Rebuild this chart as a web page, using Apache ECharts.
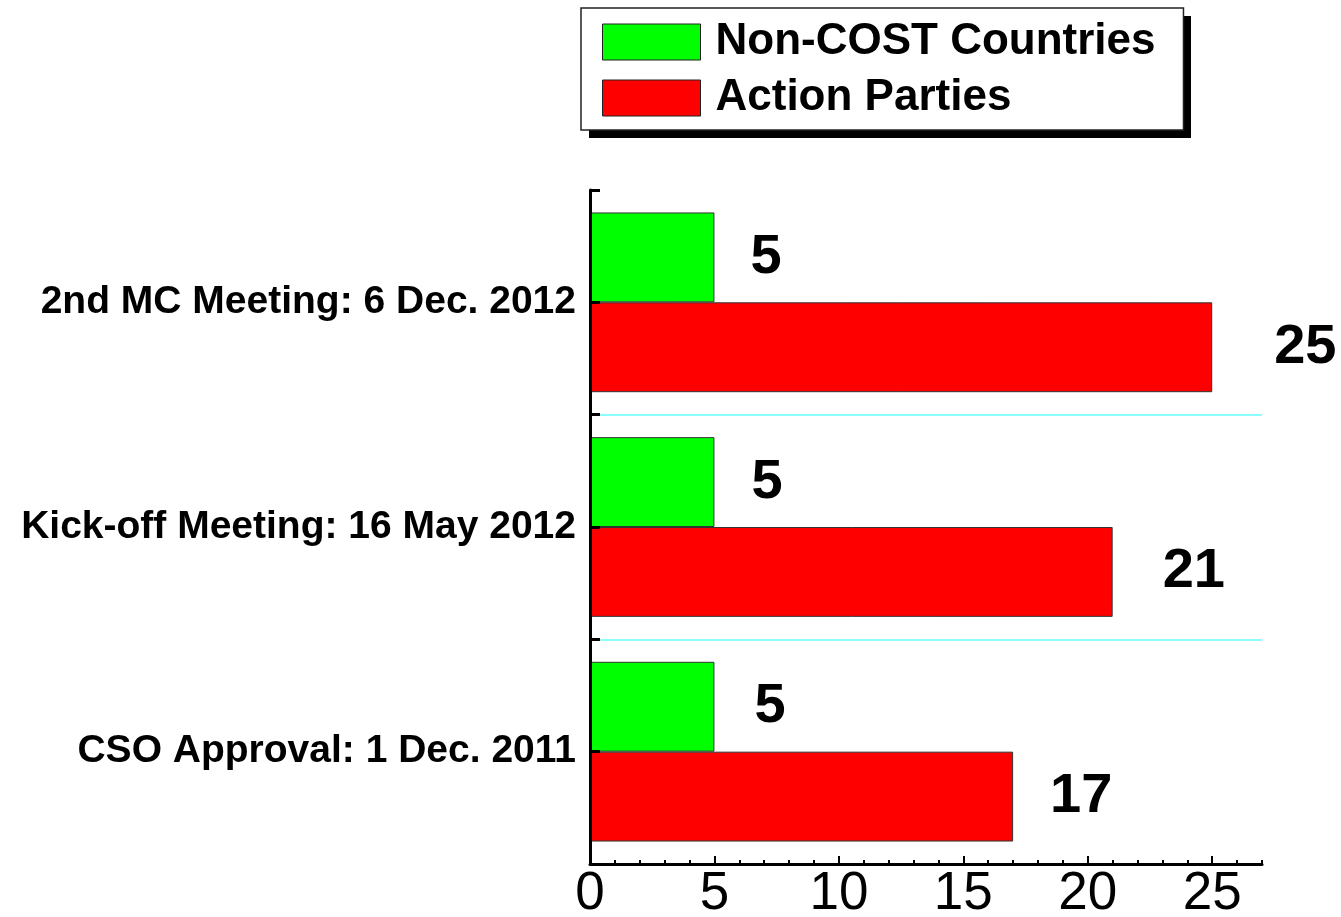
<!DOCTYPE html>
<html>
<head>
<meta charset="utf-8">
<script src="https://cdn.jsdelivr.net/npm/echarts@6/dist/echarts.min.js"></script>
<style>
html,body{margin:0;padding:0;background:#fff;}
#chart{width:1341px;height:917px;}
</style>
</head>
<body>
<div id="chart"></div>
<script>
const categories = ['CSO Approval: 1 Dec. 2011', 'Kick-off Meeting: 16 May 2012', '2nd MC Meeting: 6 Dec. 2012'];
const seriesNames = ['Non-COST Countries', 'Action Parties'];
const nonCostValues = [5, 5, 5];
const actionPartyValues = [17, 21, 25];
const xTickLabels = [0, 5, 10, 15, 20, 25];

// label gaps (style only)
const greenLabelGap = [40, 37, 36];
const redLabelGap = [37, 50, 62];

const FONT = 'Liberation Sans, Arial, sans-serif';
const chart = echarts.init(document.getElementById('chart'));

function withGap(values, gaps) {
  return values.map((v, i) => ({ value: v, label: { distance: gaps[i] } }));
}

const valueLabel = {
  show: true,
  position: 'right',
  fontFamily: FONT,
  fontWeight: 'bold',
  fontSize: 56,
  color: '#000'
};

chart.setOption({
  animation: false,
  backgroundColor: '#fff',
  grid: { left: 590, right: 79, top: 190, bottom: 53, containLabel: false, outerBoundsMode: 'none' },
  graphic: [
    { type: 'rect', z: 0, silent: true, shape: { x: 589, y: 16, width: 602, height: 122 }, style: { fill: '#000' } }
  ],
  legend: {
    data: [seriesNames[0], seriesNames[1]],
    orient: 'vertical',
    left: 581,
    top: 8,
    z: 5,
    padding: [12, 28, 10, 21],
    itemWidth: 98,
    itemHeight: 36,
    itemGap: 12,
    icon: 'rect',
    backgroundColor: '#fff',
    borderColor: '#222',
    borderWidth: 1.5,
    itemStyle: { borderColor: '#222', borderWidth: 1 },
    textStyle: { fontFamily: FONT, fontWeight: 'bold', fontSize: 44, color: '#000', padding: [7, 0, 0, 10] },
    selectedMode: false
  },
  xAxis: [
    {
      type: 'value', min: 0, max: 27, interval: 1,
      axisLine: { show: true, lineStyle: { color: '#000', width: 3 } },
      axisTick: { show: true, inside: true, length: 4, lineStyle: { color: '#000', width: 2 } },
      axisLabel: { show: true, customValues: xTickLabels, fontFamily: FONT, fontSize: 53, color: '#000', margin: 4 },
      splitLine: { show: false }
    },
    {
      type: 'value', min: 0, max: 27, position: 'bottom',
      axisLine: { show: false },
      axisTick: { show: true, inside: true, length: 8, customValues: xTickLabels, lineStyle: { color: '#000', width: 2 } },
      axisLabel: { show: false },
      splitLine: { show: false }
    }
  ],
  yAxis: [
    {
      type: 'category', data: categories, position: 'left', z: 10,
      axisLine: { show: true, lineStyle: { color: '#000', width: 3 } },
      axisTick: { show: true, inside: true, length: 10, lineStyle: { color: '#000', width: 3 } },
      axisLabel: { fontFamily: FONT, fontWeight: 'bold', fontSize: 39, color: '#000', margin: 14 },
      splitLine: { show: true, showMinLine: false, showMaxLine: false, lineStyle: { color: '#66ffff', width: 1.5 } }
    },
    {
      type: 'category', data: categories, position: 'left', z: 10,
      axisLine: { show: false },
      axisTick: { show: true, inside: true, alignWithLabel: true, length: 10, lineStyle: { color: '#000', width: 3 } },
      axisLabel: { show: false },
      splitLine: { show: false }
    }
  ],
  series: [
    {
      name: seriesNames[0], type: 'bar', xAxisIndex: 0, yAxisIndex: 0,
      data: withGap(nonCostValues, greenLabelGap),
      barGap: '0%', barCategoryGap: '20%',
      itemStyle: { color: '#00ff00', borderColor: '#333', borderWidth: 1 },
      label: valueLabel
    },
    {
      name: seriesNames[1], type: 'bar', xAxisIndex: 0, yAxisIndex: 0,
      data: withGap(actionPartyValues, redLabelGap),
      barGap: '0%', barCategoryGap: '20%',
      itemStyle: { color: '#ff0000', borderColor: '#333', borderWidth: 1 },
      label: valueLabel
    }
  ]
});
</script>
</body>
</html>
